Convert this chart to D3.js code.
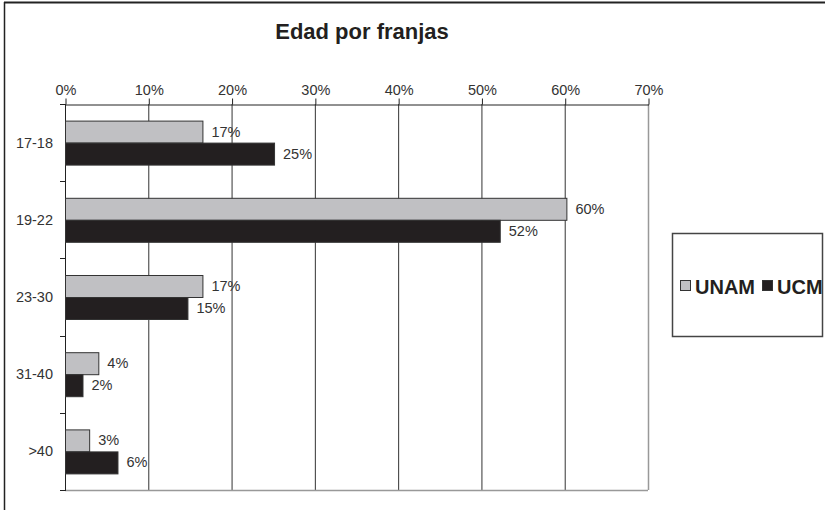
<!DOCTYPE html>
<html><head><meta charset="utf-8">
<script src="https://cdn.jsdelivr.net/npm/d3@7"></script>
<style>body{margin:0;background:#fff}svg{display:block;font-family:"Liberation Sans",Arial,sans-serif}</style>
</head><body>
<svg id="c" width="825" height="510"></svg>
<script>
const categories = ["17-18", "19-22", "23-30", "31-40", ">40"];
const seriesNames = ["UNAM", "UCM"];
const unam = [16.5, 60.2, 16.5, 4.0, 2.9];
const ucm = [25.1, 52.2, 14.7, 2.1, 6.3];
const ticks = [0, 10, 20, 30, 40, 50, 60, 70];
const colors = ["#c0c0c3", "#231f20"];

const svg = d3.select("#c");
const m = {left: 65, right: 648, top: 104, bottom: 490};
const x = d3.scaleLinear().domain([0, 70]).range([m.left, m.right]);
const y = d3.scaleBand().domain(categories).range([m.top, m.bottom]).paddingInner(0.43).paddingOuter(0.215);
const ySub = d3.scaleBand().domain(seriesNames).range([0, y.bandwidth()]);

// outer frame lines (top and left)
svg.append("line").attr("x1",4).attr("x2",825).attr("y1",2.5).attr("y2",2.5).attr("stroke","#222").attr("stroke-width",2);
svg.append("line").attr("x1",4.5).attr("x2",4.5).attr("y1",2).attr("y2",510).attr("stroke","#222").attr("stroke-width",1.5);

svg.append("text").attr("x",362).attr("y",39).attr("text-anchor","middle")
  .attr("font-size",22).attr("font-weight","bold").attr("fill","#231f20").text("Edad por franjas");

// gridlines
svg.append("g").selectAll("line").data(ticks.slice(1, -1)).join("line")
  .attr("x1", d => x(d) + 0.5).attr("x2", d => x(d) + 0.5)
  .attr("y1", m.top).attr("y2", m.bottom).attr("stroke", "#333").attr("stroke-width", 1);
// plot border right/bottom
svg.append("line").attr("x1", x(70)+0.5).attr("x2", x(70)+0.5).attr("y1", m.top).attr("y2", m.bottom).attr("stroke", "#999").attr("stroke-width", 1.5);
svg.append("line").attr("x1", m.left).attr("x2", x(70)).attr("y1", m.bottom+0.5).attr("y2", m.bottom+0.5).attr("stroke", "#999").attr("stroke-width", 1.5);

// top axis
const xAxis = d3.axisTop(x).tickValues(ticks).tickFormat(d => d + "%").tickSize(6).tickSizeOuter(0);
const gx = svg.append("g").attr("transform", `translate(0.5,${m.top + 0.5})`).call(xAxis);
gx.select(".domain").attr("stroke", "#222");
gx.selectAll(".tick line").attr("stroke", "#222");
gx.selectAll(".tick text").attr("font-size", 14.5).attr("fill", "#333").attr("y", -10).attr("font-family", "Liberation Sans, Arial, sans-serif");

// left axis
svg.append("line").attr("x1", m.left+0.5).attr("x2", m.left+0.5).attr("y1", m.top).attr("y2", m.bottom+1).attr("stroke", "#222");
const bounds = d3.range(categories.length + 1).map(i => m.top + i * (m.bottom - m.top) / categories.length);
svg.append("g").selectAll("line").data(bounds).join("line")
  .attr("x1", m.left - 5).attr("x2", m.left).attr("y1", d => Math.round(d)+0.5).attr("y2", d => Math.round(d)+0.5).attr("stroke", "#222");
svg.append("g").selectAll("text").data(categories).join("text")
  .attr("x", 53).attr("y", d => y(d) + y.bandwidth()/2 + 5)
  .attr("text-anchor", "end")
  .attr("font-size", 14.5).attr("fill", "#333").text(d => d);

// bars
const series = [unam, ucm];
series.forEach((vals, si) => {
  const g = svg.append("g");
  g.selectAll("rect").data(vals).join("rect")
    .attr("x", m.left + 0.5)
    .attr("y", (d, i) => y(categories[i]) + ySub(seriesNames[si]) + 0.5)
    .attr("width", d => x(d) - m.left)
    .attr("height", ySub.bandwidth())
    .attr("fill", colors[si]).attr("stroke", "#333").attr("stroke-width", 1);
  g.selectAll("text").data(vals).join("text")
    .attr("x", d => x(d) + 9)
    .attr("y", (d, i) => y(categories[i]) + ySub(seriesNames[si]) + ySub.bandwidth()/2 + 5)
    .attr("font-size", 14.5).attr("fill", "#333")
    .text(d => Math.round(d) + "%");
});

// legend
const lg = svg.append("g");
lg.append("rect").attr("x", 672.5).attr("y", 233.5).attr("width", 150).attr("height", 103)
  .attr("fill", "#fff").attr("stroke", "#444").attr("stroke-width", 1.5);
const legX = [680, 762];
seriesNames.forEach((n, i) => {
  lg.append("rect").attr("x", legX[i] + 0.5).attr("y", 280.5).attr("width", 10).attr("height", 10)
    .attr("fill", colors[i]).attr("stroke", "#333");
  lg.append("text").attr("x", legX[i] + 15).attr("y", 294).attr("font-size", 20).attr("font-weight", "bold")
    .attr("fill", "#231f20").text(n);
});
</script>
</body></html>
